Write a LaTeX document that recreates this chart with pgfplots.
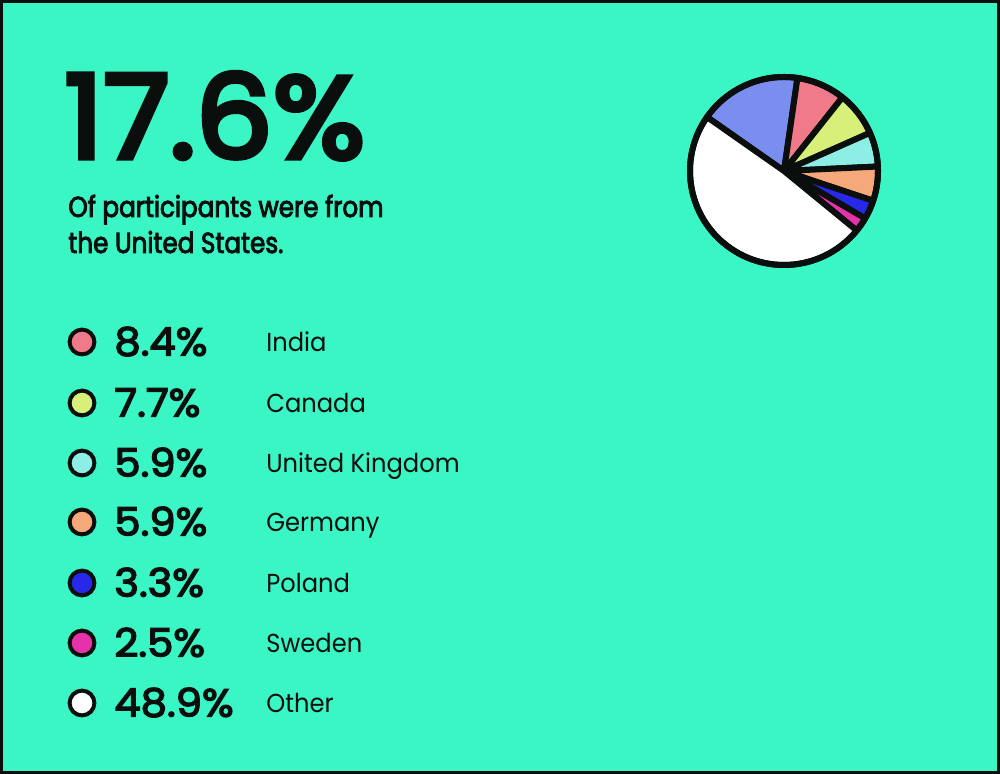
\documentclass[border=0pt]{standalone}
\usepackage{pgfplots}
\pgfplotsset{compat=1.18}
\usepackage{pgfplotstable}
\usepackage{fontspec}
\setmainfont{Poppins}
\newfontfamily\titlef[FakeBold=4.5, FakeStretch=1.05]{Poppins}
\newfontfamily\pctf[FakeBold=3.5, FakeStretch=1.07]{Poppins}
\newfontfamily\subf[FakeBold=3, FakeStretch=0.85]{Poppins}
\newfontfamily\labf[FakeStretch=0.93]{Poppins}
\definecolor{bgc}{RGB}{58,245,196}
\definecolor{ink}{RGB}{10,14,12}
\definecolor{pc0}{RGB}{122,142,240}
\definecolor{pc1}{RGB}{240,122,138}
\definecolor{pc2}{RGB}{215,240,122}
\definecolor{pc3}{RGB}{140,238,228}
\definecolor{pc4}{RGB}{245,168,122}
\definecolor{pc5}{RGB}{40,40,235}
\definecolor{pc6}{RGB}{230,50,170}
\definecolor{pc7}{RGB}{255,255,255}

% share of participants, in pie order (clockwise)
\pgfplotstableread{
idx pct country
0 17.6 US
1 8.4 India
2 7.7 Canada
3 5.9 UK
4 5.9 Germany
5 3.3 Poland
6 2.5 Sweden
7 48.9 Other
}\piedata

\def\allwedges{}
\xdef\cur{145}
\pgfplotsforeachungrouped \i in {0,...,7}{%
  \pgfplotstablegetelem{\i}{pct}\of\piedata
  \pgfmathsetmacro\spn{\pgfplotsretval*3.6/1.002}%
  \pgfmathsetmacro\nxt{\cur-\spn}%
  \pgfmathsetmacro\sx{784+94*cos(\cur)}%
  \pgfmathsetmacro\sy{603+94*sin(\cur)}%
  \xdef\allwedges{\unexpanded\expandafter{\allwedges}\noexpand\filldraw[fill=pc\i,draw=ink,line width=3pt,line join=round] (axis cs:784,603) -- (axis cs:\sx,\sy) arc[start angle=\cur,end angle=\nxt,radius=94] -- cycle;}%
  \xdef\cur{\nxt}%
}

\newcommand\legrow[6]{%
  \addplot[only marks, mark=*, mark size=6.2pt, mark options={fill=#1, draw=ink, line width=2pt}] coordinates {(82,#2)};
  \node[anchor=base west, inner sep=0pt, text=ink, font=\fontsize{19.5}{20}\pctf] at (axis cs:114,#3) {#5};
  \node[anchor=base west, inner sep=0pt, text=ink, font=\fontsize{13}{14}\labf] at (axis cs:266,#4) {#6};
}

\begin{document}
\begin{tikzpicture}
\fill[bgc] (0,0) rectangle (500pt,387pt);
\draw[ink, line width=1.6pt] (0.8pt,0.8pt) rectangle (499.2pt,386.2pt);
\begin{axis}[
  at={(0,0)}, anchor=south west,
  width=500pt, height=387pt, scale only axis,
  xmin=0, xmax=1000, ymin=0, ymax=774,
  hide axis, clip=false, enlargelimits=false,
]
\allwedges
\draw[ink, line width=3pt] (axis cs:784,603) circle[radius=94];

\node[anchor=base west, inner sep=0pt, text=ink, font=\fontsize{58}{60}\titlef] at (axis cs:64,616) {17.6\%};
\node[anchor=base west, inner sep=0pt, text=ink, font=\fontsize{14.5}{15}\subf] at (axis cs:68,557) {Of participants were from};
\node[anchor=base west, inner sep=0pt, text=ink, font=\fontsize{14.5}{15}\subf] at (axis cs:68,521) {the United States.};

\legrow{pc1}{432}{418.5}{422.5}{8.4\%}{India}
\legrow{pc2}{371}{357.5}{361.5}{7.7\%}{Canada}
\legrow{pc3}{311}{297.5}{301.5}{5.9\%}{United Kingdom}
\legrow{pc4}{252}{238.5}{242.5}{5.9\%}{Germany}
\legrow{pc5}{191}{177.5}{181.5}{3.3\%}{Poland}
\legrow{pc6}{131}{117.5}{121.5}{2.5\%}{Sweden}
\legrow{pc7}{71}{57.5}{61.5}{48.9\%}{Other}
\end{axis}
\end{tikzpicture}
\end{document}
